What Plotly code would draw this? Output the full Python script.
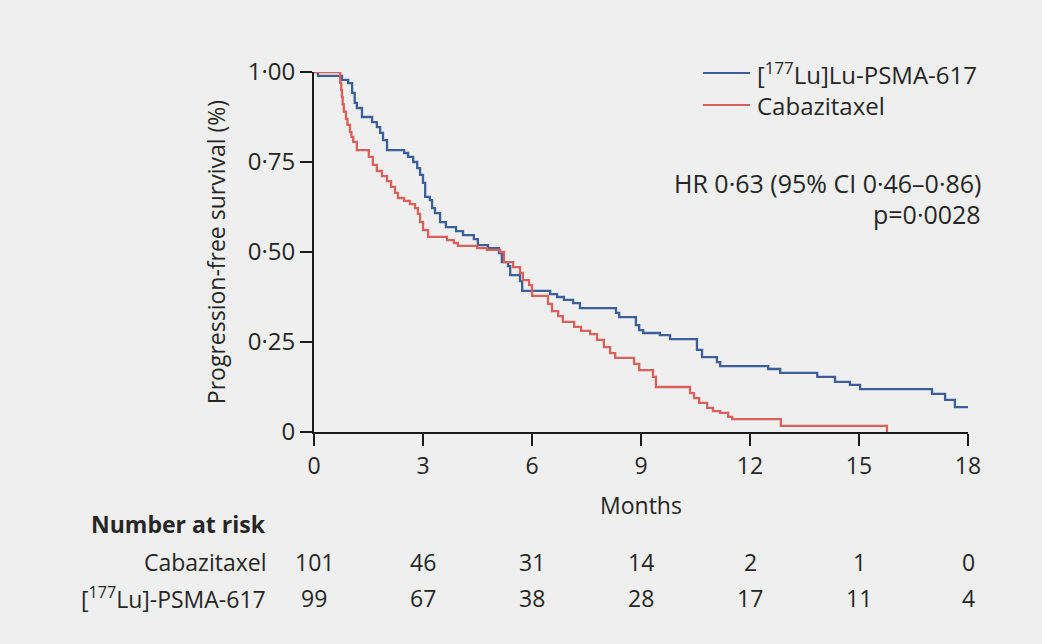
import plotly.graph_objects as go

# ---- data ----
lu_time = [0, 0.11, 0.77, 0.94, 1.05, 1.12, 1.18, 1.32, 1.60, 1.73, 1.82, 1.90, 2.01, 2.48, 2.59, 2.73,
           2.84, 2.92, 3.00, 3.06, 3.19, 3.25, 3.33, 3.47, 3.63, 3.91, 4.10, 4.40, 4.51, 4.79, 5.09,
           5.17, 5.34, 5.40, 5.67, 5.73, 6.50, 6.69, 6.88, 7.13, 7.32, 8.31, 8.40, 8.86, 8.95, 9.06,
           9.52, 9.80, 10.54, 10.68, 11.09, 11.18, 12.50, 12.83, 13.85, 14.34, 14.75, 15.03, 17.01,
           17.37, 17.64, 18.05]
lu_surv = [1.0, 0.989, 0.978, 0.969, 0.942, 0.914, 0.900, 0.875, 0.861, 0.847, 0.831, 0.811, 0.783,
           0.775, 0.764, 0.750, 0.733, 0.714, 0.692, 0.653, 0.644, 0.622, 0.608, 0.583, 0.569, 0.558,
           0.547, 0.536, 0.519, 0.511, 0.497, 0.472, 0.461, 0.436, 0.419, 0.392, 0.383, 0.375, 0.367,
           0.358, 0.344, 0.331, 0.319, 0.297, 0.283, 0.275, 0.269, 0.258, 0.228, 0.208, 0.194, 0.183,
           0.175, 0.164, 0.153, 0.139, 0.131, 0.119, 0.106, 0.089, 0.069, 0.069]

cab_time = [0, 0.72, 0.75, 0.77, 0.79, 0.82, 0.88, 0.92, 0.99, 1.03, 1.08, 1.18, 1.51, 1.62, 1.73,
            1.87, 2.01, 2.12, 2.23, 2.31, 2.48, 2.64, 2.78, 2.86, 2.92, 3.00, 3.14, 3.66, 3.85, 3.96,
            4.49, 4.76, 5.12, 5.23, 5.48, 5.67, 5.75, 5.92, 6.00, 6.44, 6.55, 6.72, 6.85, 7.16, 7.35,
            7.60, 7.79, 7.98, 8.15, 8.29, 8.81, 8.95, 9.33, 9.41, 10.35, 10.46, 10.60, 10.82, 10.98,
            11.18, 11.40, 11.51, 12.85, 15.77]
cab_surv = [1.0, 0.97, 0.95, 0.93, 0.91, 0.89, 0.87, 0.853, 0.833, 0.82, 0.806, 0.783, 0.764, 0.742,
            0.725, 0.711, 0.697, 0.681, 0.664, 0.65, 0.642, 0.633, 0.622, 0.606, 0.583, 0.561, 0.542,
            0.533, 0.525, 0.517, 0.511, 0.506, 0.50, 0.472, 0.458, 0.442, 0.422, 0.408, 0.378, 0.356,
            0.336, 0.322, 0.306, 0.292, 0.281, 0.272, 0.256, 0.236, 0.219, 0.206, 0.189, 0.172, 0.153,
            0.125, 0.108, 0.094, 0.081, 0.067, 0.058, 0.053, 0.042, 0.036, 0.017, 0.0]

x_ticks = [0, 3, 6, 9, 12, 15, 18]
y_ticks = [0, 0.25, 0.5, 0.75, 1.0]
y_ticktext = ["0", "0·25", "0·50", "0·75", "1·00"]

risk_cab = [101, 46, 31, 14, 2, 1, 0]
risk_lu = [99, 67, 38, 28, 17, 11, 4]

name_lu = "[<sup>177</sup>Lu]Lu-PSMA-617"
name_cab = "Cabazitaxel"
risk_label_cab = "Cabazitaxel"
risk_label_lu = "[<sup>177</sup>Lu]-PSMA-617"
hr_text = "HR 0·63 (95% CI 0·46–0·86)"
p_text = "p=0·0028"

# ---- style ----
BLUE = "#3d5f99"
RED = "#d8625b"
BG = "#efefef"
INK = "#262626"
FONT = "Open Sans"
FS = 23

W, H = 1042, 644
L, R, T, B = 314, 74, 72, 212
PW, PH = W - L - R, H - T - B


def px(x):
    return (x - L) / PW


def py(y):
    return (H - B - y) / PH


fig = go.Figure()
fig.add_trace(go.Scatter(x=lu_time, y=lu_surv, mode="lines", line=dict(color=BLUE, width=2.3, shape="hv"),
                         name=name_lu, cliponaxis=False, showlegend=False))
fig.add_trace(go.Scatter(x=cab_time, y=cab_surv, mode="lines", line=dict(color=RED, width=2.3, shape="hv"),
                         name=name_cab, cliponaxis=False, showlegend=False))

annotations = []
shapes = []

# custom legend
for yy, col, txt in [(73, BLUE, name_lu), (105, RED, name_cab)]:
    shapes.append(dict(type="line", xref="paper", yref="paper", x0=px(703), x1=px(750), y0=py(yy), y1=py(yy),
                       line=dict(color=col, width=2)))
    annotations.append(dict(xref="paper", yref="paper", x=px(755), y=py(yy), text=txt, showarrow=False,
                            xanchor="left", yanchor="middle", font=dict(size=FS + 1, color=INK, family=FONT)))

# HR and p
annotations.append(dict(xref="paper", yref="paper", x=px(983), y=py(183), text=hr_text, showarrow=False,
                        xanchor="right", yanchor="middle", font=dict(size=FS + 2, color=INK, family=FONT)))
annotations.append(dict(xref="paper", yref="paper", x=px(983), y=py(214), text=p_text, showarrow=False,
                        xanchor="right", yanchor="middle", font=dict(size=FS + 2, color=INK, family=FONT)))

# Number at risk table
annotations.append(dict(xref="paper", yref="paper", x=px(268), y=py(524), text="<b>Number at risk</b>",
                        showarrow=False, xanchor="right", yanchor="middle",
                        font=dict(size=FS, color=INK, family=FONT)))
for yy, lab, vals in [(562, risk_label_cab, risk_cab), (598, risk_label_lu, risk_lu)]:
    annotations.append(dict(xref="paper", yref="paper", x=px(268), y=py(yy), text=lab, showarrow=False,
                            xanchor="right", yanchor="middle", font=dict(size=FS, color=INK, family=FONT)))
    for xv, v in zip(x_ticks, vals):
        annotations.append(dict(xref="x", yref="paper", x=xv, y=py(yy), text=str(v), showarrow=False,
                                xanchor="center", yanchor="middle", font=dict(size=FS, color=INK, family=FONT)))

fig.update_layout(
    width=W, height=H,
    margin=dict(l=L, r=R, t=T, b=B, pad=0),
    paper_bgcolor=BG, plot_bgcolor=BG,
    font=dict(family=FONT, size=FS, color=INK),
    annotations=annotations, shapes=shapes,
    showlegend=False,
)
fig.update_xaxes(range=[0, 18], tickvals=x_ticks, ticktext=[str(v) for v in x_ticks],
                 showline=True, linecolor="#1a1a1a", linewidth=2, ticks="outside", ticklen=12, tickwidth=2,
                 tickcolor="#1a1a1a", showgrid=False, zeroline=False,
                 tickfont=dict(size=FS, color=INK, family=FONT),
                 title=dict(text="Months", standoff=18, font=dict(size=FS, color=INK, family=FONT)))
fig.update_yaxes(range=[0, 1], tickvals=y_ticks, ticktext=y_ticktext,
                 showline=True, linecolor="#1a1a1a", linewidth=2, ticks="outside", ticklen=12, tickwidth=2,
                 tickcolor="#1a1a1a", showgrid=False, zeroline=False,
                 tickfont=dict(size=FS + 1, color=INK, family=FONT),
                 title=dict(text="Progression-free survival (%)", standoff=16,
                            font=dict(size=FS, color=INK, family=FONT)))

fig.write_html("out.html", config={"displayModeBar": False},
               post_script="document.body.style.margin='0';document.body.style.padding='0';"
                           "document.documentElement.style.background='" + BG + "';")
